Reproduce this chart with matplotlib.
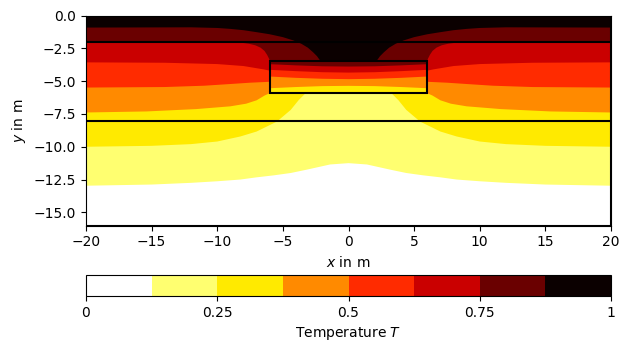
import numpy as np
import matplotlib
matplotlib.use("Agg")
import matplotlib.pyplot as plt
from matplotlib.colors import BoundaryNorm
from matplotlib.cm import ScalarMappable
from matplotlib.patches import Rectangle

# ---- data (right half, symmetric about x = 0) ----
levels = [0.0, 0.125, 0.25, 0.375, 0.5, 0.625, 0.75, 0.875, 1.0]

# contour T = 0.875 (black / dark red)
c875_x = [20, 12, 10, 9, 8, 7, 6, 5, 4.2, 3.6, 3.1, 2.7, 2.4, 2.2, 2.0, 0]
c875_y = [-0.92, -0.9, -0.95, -1.02, -1.12, -1.27, -1.43, -1.65, -1.9, -2.15,
          -2.45, -2.8, -3.1, -3.38, -3.52, -3.52]
# contour T = 0.75
c750_x = [20, 9, 8.2, 7.6, 7.1, 6.7, 6.4, 6.2, 6.05, 6.0, 6.0, 4, 2, 0]
c750_y = [-2.02, -2.02, -2.07, -2.15, -2.27, -2.45, -2.7, -3.0, -3.3, -3.45,
          -3.71, -3.80, -3.87, -3.89]
# contour T = 0.625
c625_x = [20, 14, 10, 8, 7.1, 6.5, 6.0, 6.0, 4, 2, 0]
c625_y = [-3.57, -3.6, -3.7, -3.85, -4.0, -4.1, -4.2, -4.14, -4.24, -4.32, -4.35]
# contour T = 0.5
c500_x = [20, 14, 11, 9, 7.5, 6.0, 6.0, 4, 2, 0]
c500_y = [-5.49, -5.45, -5.35, -5.22, -5.12, -5.05, -4.65, -4.75, -4.82, -4.85]
# contour T = 0.375
c375_x = [20, 15.4, 11.6, 9.0, 7.8, 7.0, 6.4, 6.0, 6.0, 4, 2, 0]
c375_y = [-7.39, -7.31, -7.13, -6.92, -6.72, -6.46, -6.1, -5.92, -5.54, -5.45, -5.38, -5.36]
# contour T = 0.25
c250_x = [20, 15, 12, 10, 8.25, 7, 5.45, 4.4, 3.8, 3.3, 3.1, 0]
c250_y = [-10.0, -9.93, -9.8, -9.6, -9.22, -8.84, -8.08, -7.19, -6.45, -5.95, -5.9, -5.9]
# contour T = 0.125
c125_x = [20, 15, 12, 10, 8.25, 7, 5.7, 4.4, 3.2, 1.4, 0]
c125_y = [-12.97, -12.88, -12.75, -12.63, -12.5, -12.33, -12.18, -12.0, -11.75, -11.35, -11.25]

contours = [
    (0.875, c875_x, c875_y),
    (0.75, c750_x, c750_y),
    (0.625, c625_x, c625_y),
    (0.5, c500_x, c500_y),
    (0.375, c375_x, c375_y),
    (0.25, c250_x, c250_y),
    (0.125, c125_x, c125_y),
]

# geometry
world_x = [-20, 20]
world_y = [0, -16]
layer_depths = [-2, -8]
block_start = (-6, -5.9)
block_end = (6, -3.5)

cbar_ticks = [0, 0.25, 0.5, 0.75, 1]
cbar_ticklabels = ["0", "0.25", "0.5", "0.75", "1"]

# ---- figure ----
W, H = 630, 351
fig = plt.figure(figsize=(W / 100, H / 100), dpi=100)
ax = fig.add_axes([86 / W, 1 - 225.5 / H, 525 / W, 210 / H])
cax = fig.add_axes([86 / W, 1 - 296 / H, 525 / W, 21 / H])

cmap = plt.get_cmap("hot_r", 8)
norm = BoundaryNorm(levels, 8)

x0, x1 = world_x
ytop, ybot = world_y
# base: hottest band
ax.fill([x0, x1, x1, x0], [ytop, ytop, ybot, ybot], color=cmap(7), lw=0)

for lev, xs, ys in contours:
    xs = np.asarray(xs, float)
    ys = np.asarray(ys, float)
    left_x = -xs
    right_x = xs[::-1]
    right_y = ys[::-1]
    px = np.concatenate([left_x, right_x[1:], [x1, x0]])
    py = np.concatenate([ys, right_y[1:], [ybot, ybot]])
    idx = int(round(lev * 8)) - 1
    ax.fill(px, py, color=cmap(idx), lw=0)

for d in layer_depths:
    ax.plot(world_x, [d, d], color="black", lw=1.5)
ax.add_patch(Rectangle(block_start, block_end[0] - block_start[0],
                       block_end[1] - block_start[1], fill=False,
                       edgecolor="black", lw=1.5))
ax.plot([x0, x1, x1], [ybot, ybot, ytop], color="black", lw=1.5)

ax.set_xlim(x0, x1)
ax.set_ylim(ybot, ytop)
ax.set_aspect("equal", adjustable="box")
ax.set_xticks(np.arange(-20, 21, 5))
ax.set_yticks(np.arange(0, -16, -2.5))
ax.set_xlabel("$x$ in m")
ax.set_ylabel("$y$ in m")

sm = ScalarMappable(norm=norm, cmap=cmap)
cb = fig.colorbar(sm, cax=cax, orientation="horizontal", ticks=cbar_ticks)
cb.set_ticklabels(cbar_ticklabels)
cb.minorticks_off()
cb.set_label("Temperature $T$")

fig.savefig("out.png", dpi=100)
